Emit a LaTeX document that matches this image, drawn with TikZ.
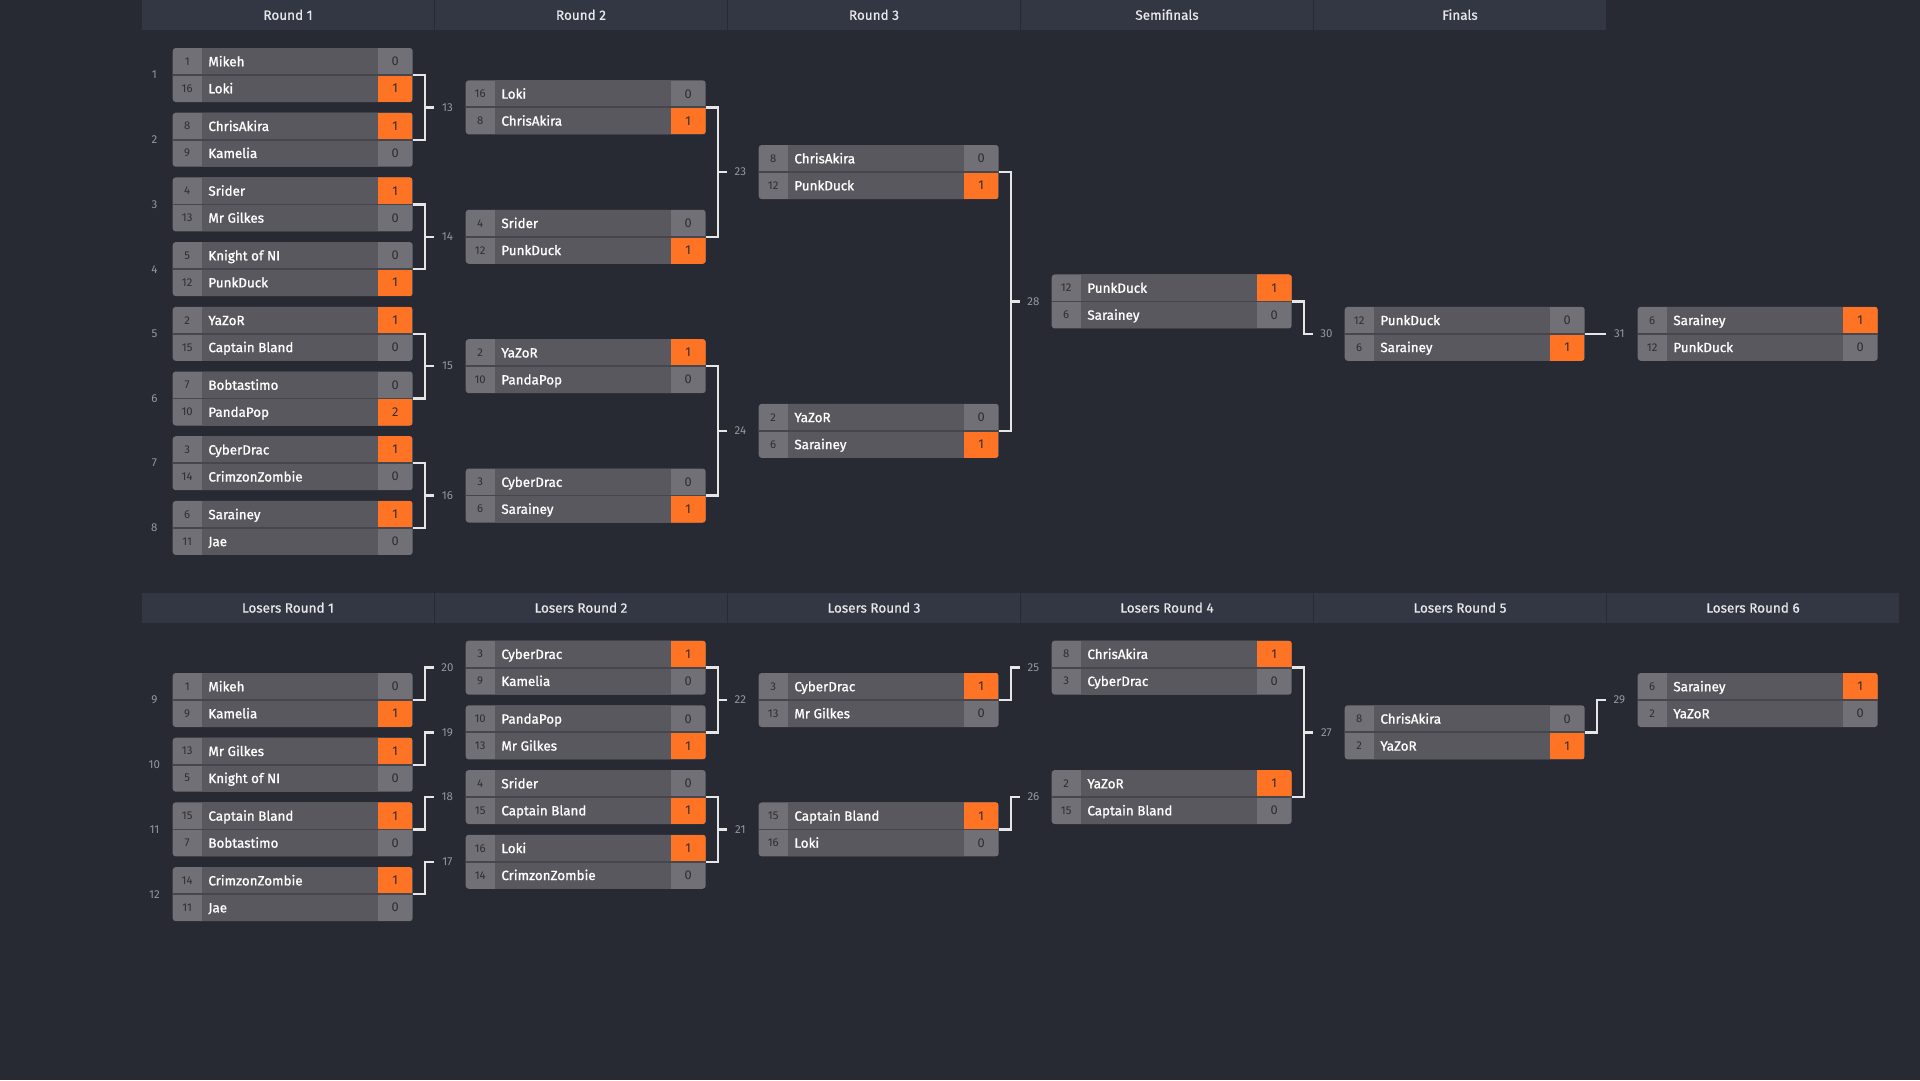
\documentclass[tikz,border=0pt]{standalone}
\usepackage{fontspec}
\setmainfont{Fira Sans}
\newfontfamily\namefont{Fira Sans}[FakeBold=1.2]
\newfontfamily\hdrfont{Fira Sans}[FakeBold=0.8]
\definecolor{bg}{HTML}{272933}
\definecolor{hdrbg}{HTML}{333643}
\definecolor{hdrtxt}{HTML}{E8E8EA}
\definecolor{cellbg}{HTML}{707076}
\definecolor{namebg}{HTML}{58585E}
\definecolor{winbg}{HTML}{FF7324}
\definecolor{sepc}{HTML}{46464C}
\definecolor{numtxt}{HTML}{2E2E32}
\definecolor{labtxt}{HTML}{9496A0}
\definecolor{conncol}{HTML}{E6E6E6}
\tikzset{
 matchbox/.style={rectangle, rounded corners=3pt, fill=cellbg, minimum width=240pt, minimum height=54pt, inner sep=0pt, outer sep=0pt},
 seedtxt/.style={anchor=center, inner sep=0pt, text=numtxt, font=\fontsize{11.3}{11.3}\selectfont},
 nametxt/.style={anchor=west, inner sep=0pt, text height=9.6pt, text depth=0pt, text=white, font=\namefont\fontsize{13.4}{13.4}\selectfont},
 scoretxt/.style={anchor=center, inner sep=0pt, text=numtxt, font=\fontsize{12.8}{12.8}\selectfont},
 mlabel/.style={anchor=center, inner sep=0pt, text=labtxt, font=\fontsize{11.5}{11.5}\selectfont},
 hdr/.style={rectangle, fill=hdrbg, minimum width=292pt, minimum height=30pt, inner sep=0pt, text height=9.6pt, text depth=0pt, text=hdrtxt, font=\hdrfont\fontsize{13.5}{13.5}\selectfont},
 conn/.style={draw=conncol, line width=2.4pt},
 rowsep/.style={draw=sepc, line width=1.8pt},
}
% #1 id, #2 position, #3 seed1, #4 name1, #5 score1, #6 seed2, #7 name2, #8 score2, #9 winning row
\newcommand\bmatch[9]{%
 \begin{scope}[shift={#2}]
  \node[matchbox] (#1) at (0,0) {};
  \begin{scope}
   \clip[rounded corners=3pt] (-120,-27) rectangle (120,27);
   \fill[namebg] (-91,-27) rectangle (85,27);
   \ifnum#9=1 \fill[winbg] (85,-27) rectangle (120,0);\else \fill[winbg] (85,0) rectangle (120,27);\fi
  \end{scope}
  \draw[rowsep] (-120,0) -- (120,0);
  \node[seedtxt] (#1s1) at (-105.5,-13.5) {#3};
  \node[nametxt] (#1n1) at (-84.5,-13.5) {#4};
  \node[scoretxt] (#1c1) at (102.5,-13.5) {#5};
  \node[seedtxt] (#1s2) at (-105.5,13.5) {#6};
  \node[nametxt] (#1n2) at (-84.5,13.5) {#7};
  \node[scoretxt] (#1c2) at (102.5,13.5) {#8};
 \end{scope}}
\begin{document}
\begin{tikzpicture}[x=1pt,y=-1pt]
\fill[bg] (0,0) rectangle (1920,1080);
\useasboundingbox (0,0) rectangle (1920,1080);

% headers
\node[hdr] (h1) at (288,15) {Round 1};
\node[hdr] (h2) at (581,15) {Round 2};
\node[hdr] (h3) at (874,15) {Round 3};
\node[hdr] (h4) at (1167,15) {Semifinals};
\node[hdr] (h5) at (1460,15) {Finals};
\node[hdr] (lh1) at (288,607.8) {Losers Round 1};
\node[hdr] (lh2) at (581,607.8) {Losers Round 2};
\node[hdr] (lh3) at (874,607.8) {Losers Round 3};
\node[hdr] (lh4) at (1167,607.8) {Losers Round 4};
\node[hdr] (lh5) at (1460,607.8) {Losers Round 5};
\node[hdr] (lh6) at (1753,607.8) {Losers Round 6};

% winners round 1
\bmatch{m1}{(292.7,75)}{1}{Mikeh}{0}{16}{Loki}{1}{2}
\bmatch{m2}{(292.7,139.7)}{8}{ChrisAkira}{1}{9}{Kamelia}{0}{1}
\bmatch{m3}{(292.7,204.4)}{4}{Srider}{1}{13}{Mr Gilkes}{0}{1}
\bmatch{m4}{(292.7,269.1)}{5}{Knight of NI}{0}{12}{PunkDuck}{1}{2}
\bmatch{m5}{(292.7,333.8)}{2}{YaZoR}{1}{15}{Captain Bland}{0}{1}
\bmatch{m6}{(292.7,398.5)}{7}{Bobtastimo}{0}{10}{PandaPop}{2}{2}
\bmatch{m7}{(292.7,463.2)}{3}{CyberDrac}{1}{14}{CrimzonZombie}{0}{1}
\bmatch{m8}{(292.7,527.9)}{6}{Sarainey}{1}{11}{Jae}{0}{1}
\node[mlabel] (l1) at (154.4,75) {1};
\node[mlabel] (l2) at (154.4,139.7) {2};
\node[mlabel] (l3) at (154.4,204.4) {3};
\node[mlabel] (l4) at (154.4,269.1) {4};
\node[mlabel] (l5) at (154.4,333.8) {5};
\node[mlabel] (l6) at (154.4,398.5) {6};
\node[mlabel] (l7) at (154.4,463.2) {7};
\node[mlabel] (l8) at (154.4,527.9) {8};

% winners round 2
\bmatch{m13}{(585.7,107.35)}{16}{Loki}{0}{8}{ChrisAkira}{1}{2}
\bmatch{m14}{(585.7,236.75)}{4}{Srider}{0}{12}{PunkDuck}{1}{2}
\bmatch{m15}{(585.7,366.15)}{2}{YaZoR}{1}{10}{PandaPop}{0}{1}
\bmatch{m16}{(585.7,495.55)}{3}{CyberDrac}{0}{6}{Sarainey}{1}{2}
\node[mlabel] (l13) at (447.4,107.35) {13};
\node[mlabel] (l14) at (447.4,236.75) {14};
\node[mlabel] (l15) at (447.4,366.15) {15};
\node[mlabel] (l16) at (447.4,495.55) {16};

% winners round 3
\bmatch{m23}{(878.7,172.05)}{8}{ChrisAkira}{0}{12}{PunkDuck}{1}{2}
\bmatch{m24}{(878.7,430.85)}{2}{YaZoR}{0}{6}{Sarainey}{1}{2}
\node[mlabel] (l23) at (740.4,172.05) {23};
\node[mlabel] (l24) at (740.4,430.85) {24};

% semifinal, finals
\bmatch{m28}{(1171.7,301.45)}{12}{PunkDuck}{1}{6}{Sarainey}{0}{1}
\node[mlabel] (l28) at (1033.4,301.45) {28};
\bmatch{m30}{(1464.7,333.8)}{12}{PunkDuck}{0}{6}{Sarainey}{1}{2}
\node[mlabel] (l30) at (1326.4,333.8) {30};
\bmatch{m31}{(1757.7,333.8)}{6}{Sarainey}{1}{12}{PunkDuck}{0}{1}
\node[mlabel] (l31) at (1619.4,333.8) {31};

% losers round 1
\bmatch{m9}{(292.7,700)}{1}{Mikeh}{0}{9}{Kamelia}{1}{2}
\bmatch{m10}{(292.7,764.7)}{13}{Mr Gilkes}{1}{5}{Knight of NI}{0}{1}
\bmatch{m11}{(292.7,829.4)}{15}{Captain Bland}{1}{7}{Bobtastimo}{0}{1}
\bmatch{m12}{(292.7,894.1)}{14}{CrimzonZombie}{1}{11}{Jae}{0}{1}
\node[mlabel] (l9) at (154.4,700) {9};
\node[mlabel] (l10) at (154.4,764.7) {10};
\node[mlabel] (l11) at (154.4,829.4) {11};
\node[mlabel] (l12) at (154.4,894.1) {12};

% losers round 2
\bmatch{m20}{(585.7,667.65)}{3}{CyberDrac}{1}{9}{Kamelia}{0}{1}
\bmatch{m19}{(585.7,732.35)}{10}{PandaPop}{0}{13}{Mr Gilkes}{1}{2}
\bmatch{m18}{(585.7,797.05)}{4}{Srider}{0}{15}{Captain Bland}{1}{2}
\bmatch{m17}{(585.7,861.75)}{16}{Loki}{1}{14}{CrimzonZombie}{0}{1}
\node[mlabel] (l20) at (447.4,667.65) {20};
\node[mlabel] (l19) at (447.4,732.35) {19};
\node[mlabel] (l18) at (447.4,797.05) {18};
\node[mlabel] (l17) at (447.4,861.75) {17};

% losers round 3
\bmatch{m22}{(878.7,700)}{3}{CyberDrac}{1}{13}{Mr Gilkes}{0}{1}
\bmatch{m21}{(878.7,829.4)}{15}{Captain Bland}{1}{16}{Loki}{0}{1}
\node[mlabel] (l22) at (740.4,700) {22};
\node[mlabel] (l21) at (740.4,829.4) {21};

% losers round 4
\bmatch{m25}{(1171.7,667.65)}{8}{ChrisAkira}{1}{3}{CyberDrac}{0}{1}
\bmatch{m26}{(1171.7,797.05)}{2}{YaZoR}{1}{15}{Captain Bland}{0}{1}
\node[mlabel] (l25) at (1033.4,667.65) {25};
\node[mlabel] (l26) at (1033.4,797.05) {26};

% losers round 5, 6
\bmatch{m27}{(1464.7,732.35)}{8}{ChrisAkira}{0}{2}{YaZoR}{1}{2}
\node[mlabel] (l27) at (1326.4,732.35) {27};
\bmatch{m29}{(1757.7,700)}{6}{Sarainey}{1}{2}{YaZoR}{0}{1}
\node[mlabel] (l29) at (1619.4,700) {29};

% connectors: winners
\draw[conn] (m1.east) -- ++(12,0) |- (m2.east);
\draw[conn] ([xshift=-13.4pt]l13.center) -- ++(-9.8,0);
\draw[conn] (m3.east) -- ++(12,0) |- (m4.east);
\draw[conn] ([xshift=-13.4pt]l14.center) -- ++(-9.8,0);
\draw[conn] (m5.east) -- ++(12,0) |- (m6.east);
\draw[conn] ([xshift=-13.4pt]l15.center) -- ++(-9.8,0);
\draw[conn] (m7.east) -- ++(12,0) |- (m8.east);
\draw[conn] ([xshift=-13.4pt]l16.center) -- ++(-9.8,0);
\draw[conn] (m13.east) -- ++(12,0) |- (m14.east);
\draw[conn] ([xshift=-13.4pt]l23.center) -- ++(-9.8,0);
\draw[conn] (m15.east) -- ++(12,0) |- (m16.east);
\draw[conn] ([xshift=-13.4pt]l24.center) -- ++(-9.8,0);
\draw[conn] (m23.east) -- ++(12,0) |- (m24.east);
\draw[conn] ([xshift=-13.4pt]l28.center) -- ++(-9.8,0);
\draw[conn] (m28.east) -- ++(12,0) |- ([xshift=-13.4pt]l30.center);
\draw[conn] (m30.east) -- ([xshift=-13.4pt]l31.center);

% connectors: losers
\draw[conn] (m9.east) -- ++(12,0) |- ([xshift=-13.4pt]l20.center);
\draw[conn] (m10.east) -- ++(12,0) |- ([xshift=-13.4pt]l19.center);
\draw[conn] (m11.east) -- ++(12,0) |- ([xshift=-13.4pt]l18.center);
\draw[conn] (m12.east) -- ++(12,0) |- ([xshift=-13.4pt]l17.center);
\draw[conn] (m20.east) -- ++(12,0) |- (m19.east);
\draw[conn] ([xshift=-13.4pt]l22.center) -- ++(-9.8,0);
\draw[conn] (m18.east) -- ++(12,0) |- (m17.east);
\draw[conn] ([xshift=-13.4pt]l21.center) -- ++(-9.8,0);
\draw[conn] (m22.east) -- ++(12,0) |- ([xshift=-13.4pt]l25.center);
\draw[conn] (m21.east) -- ++(12,0) |- ([xshift=-13.4pt]l26.center);
\draw[conn] (m25.east) -- ++(12,0) |- (m26.east);
\draw[conn] ([xshift=-13.4pt]l27.center) -- ++(-9.8,0);
\draw[conn] (m27.east) -- ++(12,0) |- ([xshift=-13.4pt]l29.center);
\end{tikzpicture}
\end{document}
